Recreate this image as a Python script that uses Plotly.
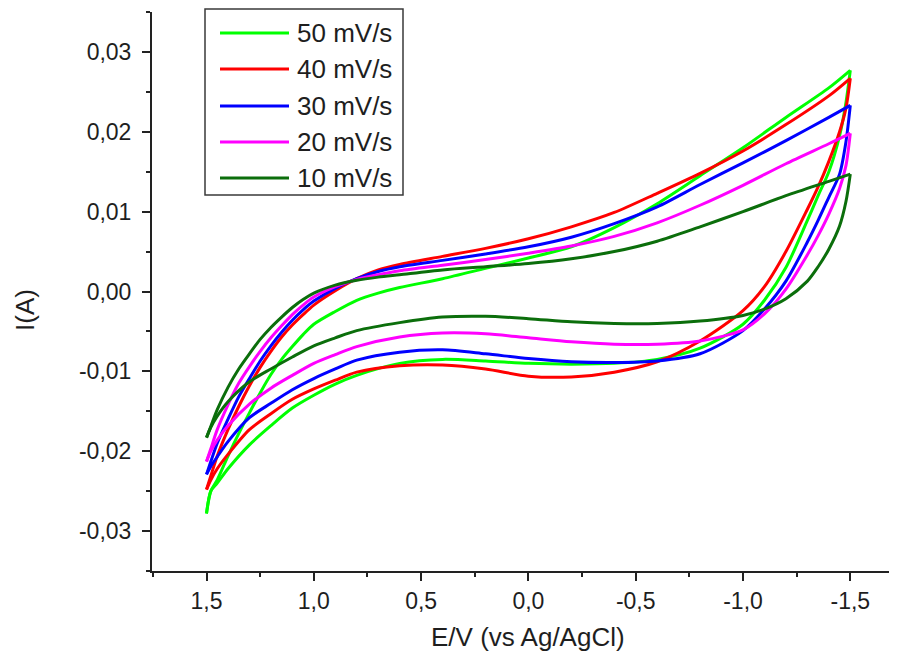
import plotly.graph_objects as go

# ---------------- data ----------------
scan_rates = ["50 mV/s", "40 mV/s", "30 mV/s", "20 mV/s", "10 mV/s"]
colors = ["#00FF00", "#FF0000", "#0000FF", "#FF00FF", "#0B6E0B"]

# forward (upper) branch potentials, V
e_up = [1.5, 1.48, 1.45, 1.4, 1.35, 1.3, 1.25, 1.2, 1.15, 1.1, 1.05, 1.0, 0.9,
        0.8, 0.7, 0.6, 0.4, 0.2, 0.0, -0.2, -0.4, -0.6, -0.8, -1.0, -1.2,
        -1.4, -1.5]
# reverse (lower) branch potentials, V
e_dn = [-1.5, -1.48, -1.45, -1.4, -1.35, -1.3, -1.2, -1.1, -1.0, -0.8, -0.6,
        -0.4, -0.2, 0.0, 0.2, 0.4, 0.6, 0.8, 0.9, 1.0, 1.1, 1.2, 1.3, 1.4,
        1.45, 1.48, 1.5]

# currents, A
i50_up = [-0.0278, -0.0250, -0.0236, -0.0206, -0.0178, -0.0152, -0.0127, -0.0104,
          -0.0085, -0.0069, -0.0054, -0.0041, -0.0025, -0.0011, -0.0002, 0.0005,
          0.0016, 0.0029, 0.0042, 0.0056, 0.0080, 0.0110, 0.0145, 0.0180,
          0.0218, 0.0255, 0.0277]
i50_dn = [0.0277, 0.0237, 0.0195, 0.0150, 0.0120, 0.0089, 0.0030, -0.0011,
          -0.0041, -0.0071, -0.0085, -0.0090, -0.0091, -0.0090, -0.0087,
          -0.0085, -0.0090, -0.0105, -0.0116, -0.0130, -0.0146, -0.0168,
          -0.0192, -0.0222, -0.0240, -0.0250, -0.0278]

i40_up = [-0.0248, -0.0231, -0.0206, -0.0173, -0.0144, -0.0118, -0.0095, -0.0075,
          -0.0057, -0.0042, -0.0029, -0.0017, 0.0001, 0.0016, 0.0027, 0.0034,
          0.0044, 0.0054, 0.0066, 0.0081, 0.0099, 0.0123, 0.0148, 0.0176,
          0.0209, 0.0245, 0.0267]
i40_dn = [0.0267, 0.0230, 0.0200, 0.0163, 0.0131, 0.0103, 0.0050, 0.0006,
          -0.0024, -0.0062, -0.0088, -0.0101, -0.0107, -0.0106, -0.0097,
          -0.0092, -0.0093, -0.0101, -0.0111, -0.0122, -0.0135, -0.0153,
          -0.0173, -0.0204, -0.0222, -0.0236, -0.0248]

i30_up = [-0.0229, -0.0213, -0.0190, -0.0160, -0.0132, -0.0109, -0.0087, -0.0068,
          -0.0051, -0.0036, -0.0023, -0.0012, 0.0004, 0.0016, 0.0025, 0.0031,
          0.0039, 0.0047, 0.0056, 0.0068, 0.0085, 0.0106, 0.0134, 0.0161,
          0.0189, 0.0218, 0.0233]
i30_dn = [0.0233, 0.0188, 0.0147, 0.0118, 0.0089, 0.0062, 0.0013, -0.0022,
          -0.0049, -0.0078, -0.0087, -0.0089, -0.0088, -0.0084, -0.0078,
          -0.0073, -0.0076, -0.0086, -0.0097, -0.0109, -0.0123, -0.0140,
          -0.0158, -0.0188, -0.0207, -0.0219, -0.0229]

i20_up = [-0.0213, -0.0197, -0.0173, -0.0142, -0.0115, -0.0094, -0.0075, -0.0058,
          -0.0043, -0.0029, -0.0017, -0.0007, 0.0006, 0.0015, 0.0021, 0.0026,
          0.0033, 0.0040, 0.0048, 0.0057, 0.0069, 0.0086, 0.0108, 0.0133,
          0.0160, 0.0185, 0.0198]
i20_dn = [0.0198, 0.0158, 0.0129, 0.0097, 0.0070, 0.0046, 0.0003, -0.0028,
          -0.0048, -0.0062, -0.0066, -0.0066, -0.0063, -0.0058, -0.0053,
          -0.0052, -0.0057, -0.0069, -0.0079, -0.0090, -0.0105, -0.0121,
          -0.0141, -0.0168, -0.0186, -0.0200, -0.0213]

i10_up = [-0.0183, -0.0169, -0.0148, -0.0120, -0.0097, -0.0078, -0.0060, -0.0045,
          -0.0032, -0.0020, -0.0010, -0.0002, 0.0008, 0.0014, 0.0018, 0.0021,
          0.0027, 0.0031, 0.0035, 0.0041, 0.0050, 0.0063, 0.0081, 0.0100,
          0.0120, 0.0138, 0.0147]
i10_dn = [0.0147, 0.0113, 0.0082, 0.0053, 0.0031, 0.0013, -0.0009, -0.0022,
          -0.0030, -0.0037, -0.0040, -0.0040, -0.0038, -0.0034, -0.0031,
          -0.0032, -0.0039, -0.0049, -0.0058, -0.0068, -0.0082, -0.0097,
          -0.0113, -0.0138, -0.0156, -0.0170, -0.0183]

currents_up = [i50_up, i40_up, i30_up, i20_up, i10_up]
currents_dn = [i50_dn, i40_dn, i30_dn, i20_dn, i10_dn]

x_tick_vals = [1.5, 1.0, 0.5, 0.0, -0.5, -1.0, -1.5]
x_tick_labels = ["1,5", "1,0", "0,5", "0,0", "-0,5", "-1,0", "-1,5"]
y_tick_vals = [-0.03, -0.02, -0.01, 0.0, 0.01, 0.02, 0.03]
y_tick_labels = ["-0,03", "-0,02", "-0,01", "0,00", "0,01", "0,02", "0,03"]

# ---------------- figure ----------------
FONT = "Liberation Sans, Arial, sans-serif"
TXT = "#1e1e1e"

fig = go.Figure()
for name, col, iu, idn in zip(scan_rates, colors, currents_up, currents_dn):
    fig.add_trace(go.Scatter(x=e_up, y=iu, mode="lines", name=name,
                             legendgroup=name, showlegend=False,
                             line=dict(color=col, width=3, shape="spline", smoothing=0.8)))
    fig.add_trace(go.Scatter(x=e_dn, y=idn, mode="lines", name=name,
                             legendgroup=name, showlegend=False,
                             line=dict(color=col, width=3, shape="spline", smoothing=0.8)))

axis_common = dict(showline=True, linecolor="#222", linewidth=2, mirror=False,
                   showgrid=False, zeroline=False, ticks="outside", ticklen=8,
                   tickwidth=2, tickcolor="#222", tickmode="array",
                   tickfont=dict(family=FONT, size=23, color=TXT))

fig.update_xaxes(range=[1.754, -1.7176], tickvals=x_tick_vals, ticktext=x_tick_labels,
                 minor=dict(ticks="outside", tickmode="linear", tick0=0, dtick=0.25,
                            ticklen=4, tickwidth=2, tickcolor="#222"),
                 **axis_common)
fig.update_yaxes(range=[-0.035, 0.035], tickvals=y_tick_vals, ticktext=y_tick_labels,
                 ticklabelstandoff=6,
                 minor=dict(ticks="outside", tickmode="linear", tick0=0, dtick=0.005,
                            ticklen=4, tickwidth=2, tickcolor="#222"),
                 **axis_common)

# The page body adds an 8 px offset; the plot area should land on
# window pixels x 152..897, y 12..571.
OFF = 8
FIG_W, FIG_H = 897 - OFF, 660 - OFF
L, R, T, B = 152, 897, 12, 571          # window pixel coordinates
W, H = R - L, B - T


def px(xp):
    return (xp - L) / W


def py(yp):
    return (B - yp) / H


shapes = [dict(type="rect", xref="paper", yref="paper",
               x0=px(205), x1=px(403), y0=py(195), y1=py(9),
               line=dict(color="#3a3a3a", width=1.5), fillcolor="white", layer="above")]
annotations = []
legend_rows = [33, 69, 106, 142, 178]
for name, col, yr in zip(scan_rates, colors, legend_rows):
    shapes.append(dict(type="line", xref="paper", yref="paper",
                       x0=px(220), x1=px(289), y0=py(yr), y1=py(yr),
                       line=dict(color=col, width=3), layer="above"))
    annotations.append(dict(xref="paper", yref="paper", x=px(295), y=py(yr),
                            xanchor="left", yanchor="middle", showarrow=False,
                            text=name, font=dict(family=FONT, size=26, color=TXT)))

annotations.append(dict(xref="paper", yref="paper", x=px(528), y=py(637),
                        xanchor="center", yanchor="middle", showarrow=False,
                        text="E/V (vs Ag/AgCl)",
                        font=dict(family=FONT, size=26, color=TXT)))
annotations.append(dict(xref="paper", yref="paper", x=px(25), y=py(310),
                        xanchor="center", yanchor="middle", showarrow=False,
                        textangle=-90, text="I(A)",
                        font=dict(family=FONT, size=26, color=TXT)))

fig.update_layout(width=FIG_W, height=FIG_H,
                  margin=dict(l=L - OFF, r=FIG_W - (R - OFF), t=T - OFF, b=FIG_H - (B - OFF)),
                  paper_bgcolor="white", plot_bgcolor="white",
                  showlegend=False, shapes=shapes, annotations=annotations)

fig.write_html("out.html")
